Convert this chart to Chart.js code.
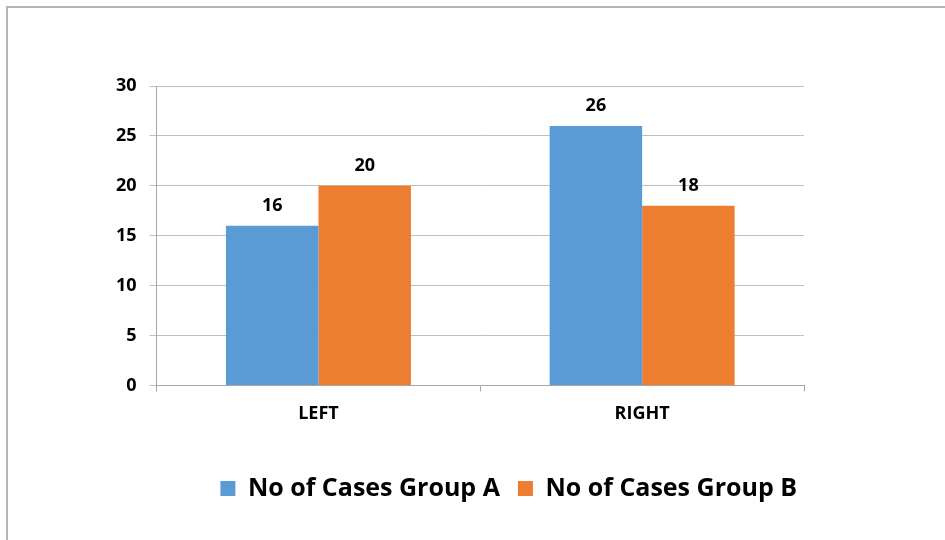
<!DOCTYPE html>
<html>
<head>
<meta charset="utf-8">
<script src="https://cdn.jsdelivr.net/npm/chart.js@4"></script>
<style>
  html, body { margin: 0; padding: 0; background: #fff; }
  #wrap { position: relative; width: 945px; height: 540px; }
  #frame { position: absolute; left: 6px; top: 6px; right: 0; bottom: 0;
           border-top: 2px solid #b4b4b4; border-left: 2px solid #b4b4b4; }
  canvas { position: absolute; left: 0; top: 0; }
</style>
</head>
<body>
<div id="wrap">
  <div id="frame"></div>
  <canvas id="chart" width="945" height="540"></canvas>
</div>
<script>
const categories = ['LEFT', 'RIGHT'];
const groupA = [16, 26];
const groupB = [20, 18];
const seriesNames = ['No of Cases Group A', 'No of Cases Group B'];

const FONT = "'Open Sans', 'DejaVu Sans', sans-serif";

// value labels above every bar
const valueLabels = {
    id: 'valueLabels',
    afterDatasetsDraw(chart) {
        const ctx = chart.ctx;
        ctx.save();
        ctx.font = 'bold 18px ' + FONT;
        ctx.fillStyle = '#000';
        ctx.textAlign = 'center';
        ctx.textBaseline = 'middle';
        chart.data.datasets.forEach((ds, i) => {
            chart.getDatasetMeta(i).data.forEach((bar, j) => {
                ctx.fillText(ds.data[j], bar.x, bar.y - 20);
            });
        });
        ctx.restore();
    }
};

// nudge the legend a bit to the right, like the original
const legendShift = {
    id: 'legendShift',
    afterLayout(chart) {
        chart.legend.left += 11;
        chart.legend.right += 11;
    }
};

new Chart(document.getElementById('chart'), {
    type: 'bar',
    data: {
        labels: categories,
        datasets: [{
            label: seriesNames[0],
            data: groupA,
            backgroundColor: '#5b9bd5',
            categoryPercentage: 2 / 3.5,
            barPercentage: 1
        }, {
            label: seriesNames[1],
            data: groupB,
            backgroundColor: '#ed7d31',
            categoryPercentage: 2 / 3.5,
            barPercentage: 1
        }]
    },
    options: {
        responsive: false,
        animation: false,
        layout: { padding: { left: 103, right: 141, top: 86, bottom: 29 } },
        plugins: {
            legend: {
                position: 'bottom',
                align: 'end',
                labels: {
                    boxWidth: 15,
                    boxHeight: 15,
                    padding: 18,
                    color: '#000',
                    font: { family: FONT, size: 25, weight: 'bold' }
                }
            },
            tooltip: { enabled: false }
        },
        scales: {
            x: {
                grid: { drawOnChartArea: false, drawTicks: true, tickLength: 6, color: '#a6a6a6' },
                border: { color: '#a6a6a6' },
                ticks: { color: '#000', padding: 12, font: { family: FONT, size: 18, weight: 'bold' } },
                afterFit(axis) { axis.height += 21; }
            },
            y: {
                min: 0,
                max: 30,
                ticks: { stepSize: 5, color: '#000', padding: 13, font: { family: FONT, size: 18, weight: 'bold' } },
                grid: { color: '#bfbfbf', tickLength: 7 },
                border: { color: '#a6a6a6' }
            }
        }
    },
    plugins: [valueLabels, legendShift]
});
</script>
</body>
</html>
